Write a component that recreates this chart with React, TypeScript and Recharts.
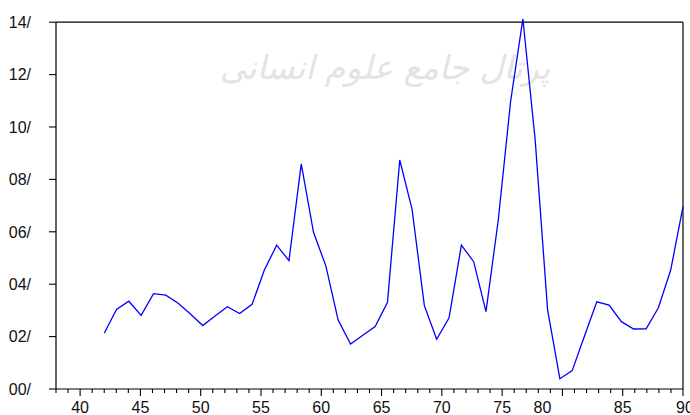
import React from 'react';
import { LineChart, Line, XAxis, YAxis, ReferenceLine } from 'recharts';

// x positions (years) of the plotted points
const xValues = [
  42.0, 43.02, 44.04, 45.06, 46.09, 47.11, 48.13, 49.15, 50.17, 51.19,
  52.21, 53.23, 54.26, 55.28, 56.3, 57.32, 58.34, 59.36, 60.38, 61.4,
  62.43, 63.45, 64.47, 65.49, 66.51, 67.53, 68.55, 69.57, 70.6, 71.62,
  72.64, 73.66, 74.68, 75.7, 76.72, 77.74, 78.77, 79.79, 80.81, 81.83,
  82.85, 83.87, 84.89, 85.91, 86.94, 87.96, 88.98, 90.0,
];

// series values
const seriesValues = [
  0.0213, 0.0304, 0.0335, 0.0281, 0.0364, 0.0358, 0.0327, 0.0286, 0.0242, 0.0279,
  0.0314, 0.0288, 0.0323, 0.0454, 0.0549, 0.049, 0.0859, 0.0597, 0.047, 0.0263,
  0.0172, 0.0205, 0.0238, 0.0331, 0.0874, 0.0686, 0.0318, 0.019, 0.0272, 0.0549,
  0.0486, 0.0295, 0.0645, 0.1097, 0.1413, 0.0951, 0.0302, 0.0039, 0.007, 0.0202,
  0.0333, 0.032, 0.0257, 0.0229, 0.023, 0.031, 0.0454, 0.0696,
];

const xTicks = [
  38, 39, 40, 41, 42, 43, 44, 45, 46, 47, 48, 49, 50, 51, 52, 53, 54, 55, 56, 57,
  58, 59, 60, 61, 62, 63, 64, 65, 66, 67, 68, 69, 70, 71, 72, 73, 74, 75, 76, 77,
  78, 79, 80, 81, 82, 83, 84, 85, 86, 87, 88, 89, 90,
];
const xLabelValues = [40, 45, 50, 55, 60, 65, 70, 75, 80, 85, 90];
const xLabels = ['40', '45', '50', '55', '60', '65', '70', '75', '80', '85', '90'];

const yTicks = [0, 0.02, 0.04, 0.06, 0.08, 0.1, 0.12, 0.14];
const yLabels = ['00/', '02/', '04/', '06/', '08/', '10/', '12/', '14/'];

const watermarkText = 'پرتال جامع علوم انسانی';

const data = xValues.map((x, i) => ({ x, y: seriesValues[i] }));

const FONT = '"Liberation Sans", Arial, Helvetica, sans-serif';
const labelShift: Record<string, number> = { '80': -20, '90': 2 };

const XTick = (props: any) => {
  const { x, y, payload } = props;
  const v = payload.value;
  const idx = xLabelValues.indexOf(v);
  const major = idx >= 0;
  const label = major ? xLabels[idx] : '';
  return (
    <g>
      <line x1={x} x2={x} y1={y} y2={y + (major ? 7 : 4)} stroke="#000" strokeWidth={1.1} />
      {major && (
        <text
          x={x + (labelShift[label] || 0)}
          y={y + 13}
          dy="0.71em"
          textAnchor="middle"
          fontFamily={FONT}
          fontSize={16}
          fill="#111"
        >
          {label}
        </text>
      )}
    </g>
  );
};

const YTick = (props: any) => {
  const { x, y, payload } = props;
  const idx = yTicks.findIndex((t) => Math.abs(t - payload.value) < 1e-9);
  return (
    <g>
      <line x1={x - 7} x2={x} y1={y} y2={y} stroke="#000" strokeWidth={1.1} />
      <text
        x={x - 25}
        y={y}
        dy="0.36em"
        textAnchor="end"
        fontFamily={FONT}
        fontSize={16}
        fill="#111"
      >
        {idx >= 0 ? yLabels[idx] : ''}
      </text>
    </g>
  );
};

export default function App() {
  return (
    <div style={{ position: 'absolute', left: 0, top: 0, width: 690, height: 415, background: '#fff' }}>
      <div
        style={{
          position: 'absolute',
          left: 200,
          top: 48,
          width: 370,
          textAlign: 'center',
          fontFamily: '"DejaVu Sans", sans-serif',
          fontSize: 33,
          fontStyle: 'italic',
          color: '#e3e3e3',
          direction: 'rtl',
          whiteSpace: 'nowrap',
        }}
      >
        {watermarkText}
      </div>
      <div style={{ position: 'absolute', left: 0, top: 0 }}>
        <LineChart width={690} height={415} data={data} margin={{ top: 18, right: 7, bottom: 0, left: 0 }}>
          <XAxis
            dataKey="x"
            type="number"
            domain={[38, 90]}
            ticks={xTicks}
            interval={0}
            tickSize={0}
            tickMargin={0}
            tick={<XTick />}
            axisLine={{ stroke: '#000', strokeWidth: 1.2 }}
            height={26}
          />
          <YAxis
            type="number"
            domain={[0, 0.1416]}
            ticks={yTicks}
            interval={0}
            width={56}
            tickSize={0}
            tickMargin={0}
            tick={<YTick />}
            axisLine={false}
            allowDataOverflow
          />
          <ReferenceLine segment={[{ x: 38, y: 0 }, { x: 38, y: 0.14 }]} stroke="#000" strokeWidth={1.2} />
          <ReferenceLine segment={[{ x: 90, y: 0 }, { x: 90, y: 0.14 }]} stroke="#000" strokeWidth={1.2} />
          <ReferenceLine segment={[{ x: 38, y: 0.14 }, { x: 90, y: 0.14 }]} stroke="#000" strokeWidth={1.2} />
          <Line
            type="linear"
            dataKey="y"
            stroke="#0000ff"
            strokeWidth={1.3}
            dot={false}
            isAnimationActive={false}
          />
        </LineChart>
      </div>
    </div>
  );
}
